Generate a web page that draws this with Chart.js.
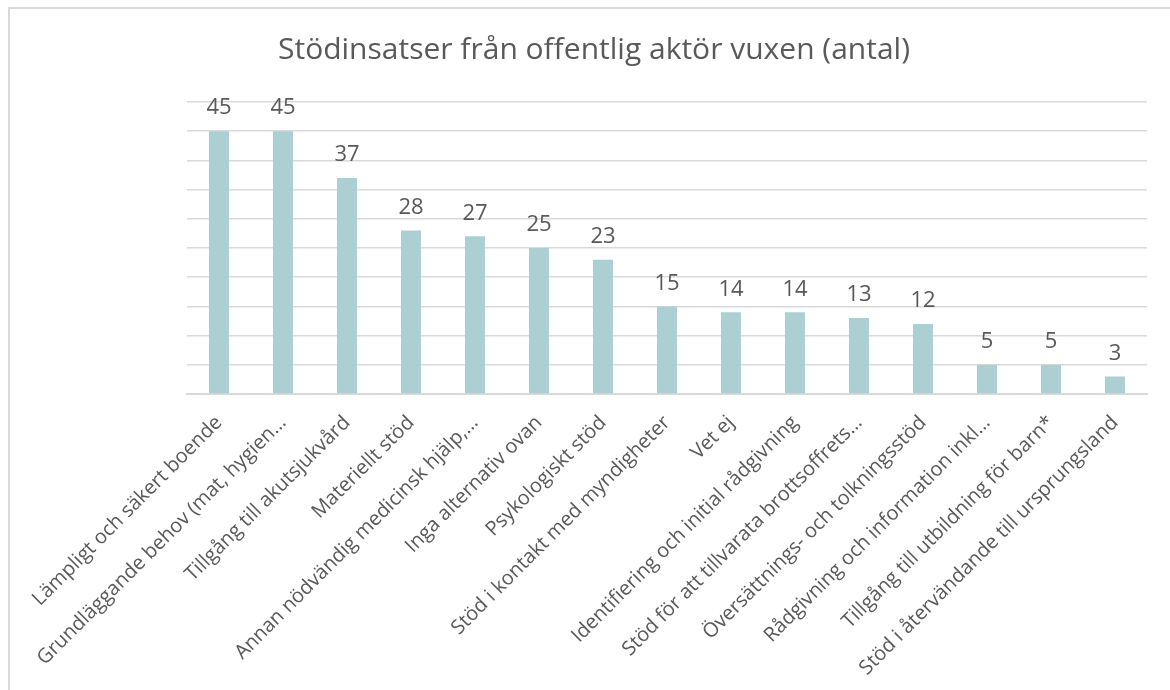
<!DOCTYPE html>
<html lang="sv">
<head>
  <meta charset="utf-8">
  <title>Stödinsatser från offentlig aktör vuxen</title>
  <script src="https://cdn.jsdelivr.net/npm/chart.js@4.4.1/dist/chart.umd.min.js"></script>
  <style>
    html, body { margin: 0; padding: 0; background: #fff; }
    .wrapper { position: relative; width: 1170px; height: 690px; }
    .frame {
      position: absolute; left: 8px; top: 7px; right: -4px; bottom: -4px;
      border-left: 2px solid #d9d9d9; border-top: 2px solid #d9d9d9;
      pointer-events: none;
    }
  </style>
</head>
<body>
  <div class="wrapper">
    <canvas id="chart-0" width="1170" height="690"></canvas>
    <div class="frame"></div>
  </div>

  <script>
    let categories = [
      'Lämpligt och säkert boende',
      'Grundläggande behov (mat, hygien…',
      'Tillgång till akutsjukvård',
      'Materiellt stöd',
      'Annan nödvändig medicinsk hjälp,…',
      'Inga alternativ ovan',
      'Psykologiskt stöd',
      'Stöd i kontakt med myndigheter',
      'Vet ej',
      'Identifiering och initial rådgivning',
      'Stöd för att tillvarata brottsoffrets…',
      'Översättnings- och tolkningsstöd',
      'Rådgivning och information inkl…',
      'Tillgång till utbildning för barn*',
      'Stöd i återvändande till ursprungsland'
    ];
    let counts = [45, 45, 37, 28, 27, 25, 23, 15, 14, 14, 13, 12, 5, 5, 3];

    let textColor = '#595959';
    let fontFamily = '"Open Sans", Lato, sans-serif';

    // draws the number above each bar
    let valueLabels = {
      id: 'valueLabels',
      afterDatasetsDraw(chart) {
        let ctx = chart.ctx;
        let meta = chart.getDatasetMeta(0);
        ctx.save();
        ctx.fillStyle = textColor;
        ctx.font = '22px ' + fontFamily;
        ctx.textAlign = 'center';
        ctx.textBaseline = 'bottom';
        meta.data.forEach(function(bar, i) {
          ctx.fillText(String(counts[i]), bar.x, bar.y - 12);
        });
        ctx.restore();
      }
    };

    let chart = new Chart('chart-0', {
      type: 'bar',
      data: {
        labels: categories,
        datasets: [{
          data: counts,
          backgroundColor: '#abcfd3',
          categoryPercentage: 1,
          barPercentage: 0.3125
        }]
      },
      plugins: [valueLabels],
      options: {
        responsive: false,
        animation: false,
        layout: { padding: { left: 41, right: 23, top: 0, bottom: 0 } },
        plugins: {
          legend: { display: false },
          tooltip: { enabled: false },
          title: {
            display: true,
            text: 'Stödinsatser från offentlig aktör vuxen (antal)',
            color: textColor,
            font: { family: fontFamily, size: 30, weight: 'normal' },
            padding: { top: 32, bottom: 34 }
          }
        },
        scales: {
          x: {
            grid: { display: false },
            border: { display: true, color: '#d9d9d9', width: 2 },
            ticks: {
              color: textColor,
              font: { family: fontFamily, size: 20 },
              minRotation: 45,
              maxRotation: 45,
              autoSkip: false,
              padding: 9
            },
            afterFit(scale) { scale.height = 296; }
          },
          y: {
            min: 0,
            max: 50,
            ticks: { display: false, stepSize: 5 },
            border: { display: false },
            grid: { color: '#d9d9d9', lineWidth: 1.5, drawTicks: false },
            afterFit(scale) { scale.width = 146; }
          }
        }
      }
    });
  </script>
</body>
</html>
